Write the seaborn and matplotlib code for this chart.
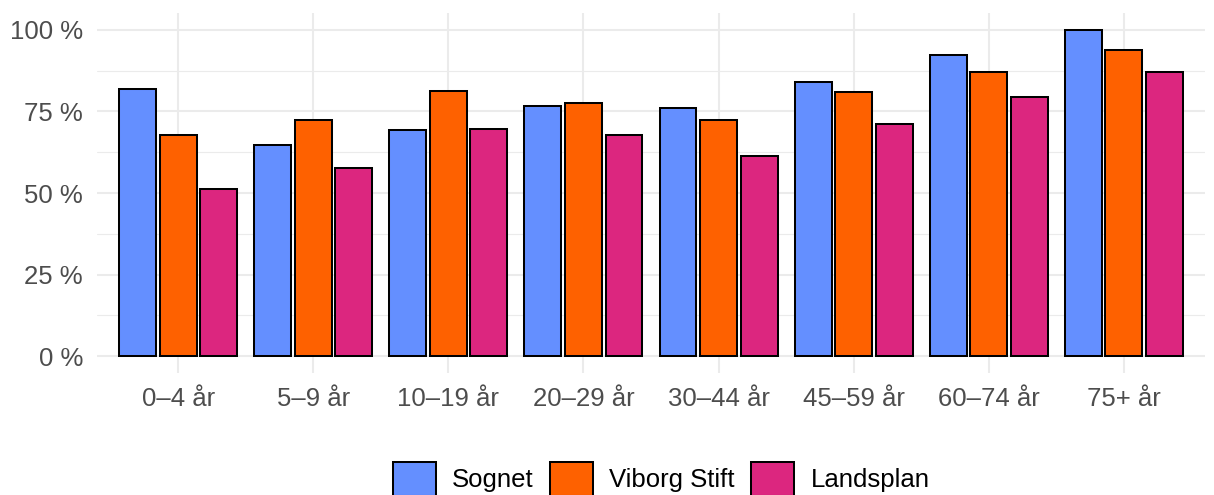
import matplotlib
matplotlib.use("Agg")
import matplotlib.pyplot as plt
import seaborn as sns
import pandas as pd
from matplotlib.patches import Patch
from matplotlib.ticker import FixedLocator, FuncFormatter

# ---------------------------------------------------------------------
# data (in percent)
# ---------------------------------------------------------------------
age_groups = ["0–4 år", "5–9 år", "10–19 år", "20–29 år",
              "30–44 år", "45–59 år", "60–74 år", "75+ år"]
regions = ["Sognet", "Viborg Stift", "Landsplan"]

sognet = [81.8, 64.8, 69.2, 76.7, 76.1, 83.9, 92.4, 100.0]
viborg_stift = [67.7, 72.5, 81.1, 77.7, 72.5, 80.8, 86.9, 93.8]
landsplan = [51.1, 57.6, 69.7, 67.9, 61.4, 71.1, 79.3, 86.9]

colors = ["#648FFF", "#FE6100", "#DC267F"]

df = pd.DataFrame({
    "alder": age_groups * 3,
    "region": [r for r in regions for _ in age_groups],
    "pct": sognet + viborg_stift + landsplan,
})
df["alder"] = pd.Categorical(df["alder"], categories=age_groups, ordered=True)

# ---------------------------------------------------------------------
# plot
# ---------------------------------------------------------------------
sns.set_theme(style="white")
plt.rcParams["font.family"] = ["Liberation Sans", "DejaVu Sans"]

fig = plt.figure(figsize=(12.14, 4.95), dpi=100)
ax = fig.add_axes([0.0799, 0.2465, 0.9127, 0.7272])

sns.barplot(data=df, x="alder", y="pct", hue="region", hue_order=regions,
            palette=colors, width=0.9, gap=0.09, edgecolor="black",
            linewidth=1.45, saturation=1, errorbar=None, legend=False, ax=ax)

ax.set_xlim(-0.6, 7.6)
ax.set_ylim(-5.1, 105.1)

ax.yaxis.set_major_locator(FixedLocator([0, 25, 50, 75, 100]))
ax.yaxis.set_minor_locator(FixedLocator([12.5, 37.5, 62.5, 87.5]))
ax.yaxis.set_major_formatter(FuncFormatter(lambda v, _: f"{v:.0f} %"))

ax.set_axisbelow(True)
ax.grid(which="major", axis="both", color="#EBEBEB", linewidth=1.5)
ax.grid(which="minor", axis="y", color="#EBEBEB", linewidth=0.8)

for s in ax.spines.values():
    s.set_visible(False)

ax.tick_params(axis="both", which="both", length=0, labelsize=18.5,
               labelcolor="#4D4D4D")
ax.tick_params(axis="y", pad=10)
ax.tick_params(axis="x", pad=10)
ax.set_xlabel("")
ax.set_ylabel("")

handles = [Patch(facecolor=c, edgecolor="black", linewidth=1.45) for c in colors]
fig.legend(handles, regions, loc="center", bbox_to_anchor=(661 / 1214, 1 - 479 / 495),
           ncol=3, frameon=False, fontsize=18.5, handlelength=1.7,
           handleheight=1.7, handletextpad=0.62, columnspacing=0.62,
           borderpad=0, labelcolor="black")

fig.savefig("out.png", dpi=100)
